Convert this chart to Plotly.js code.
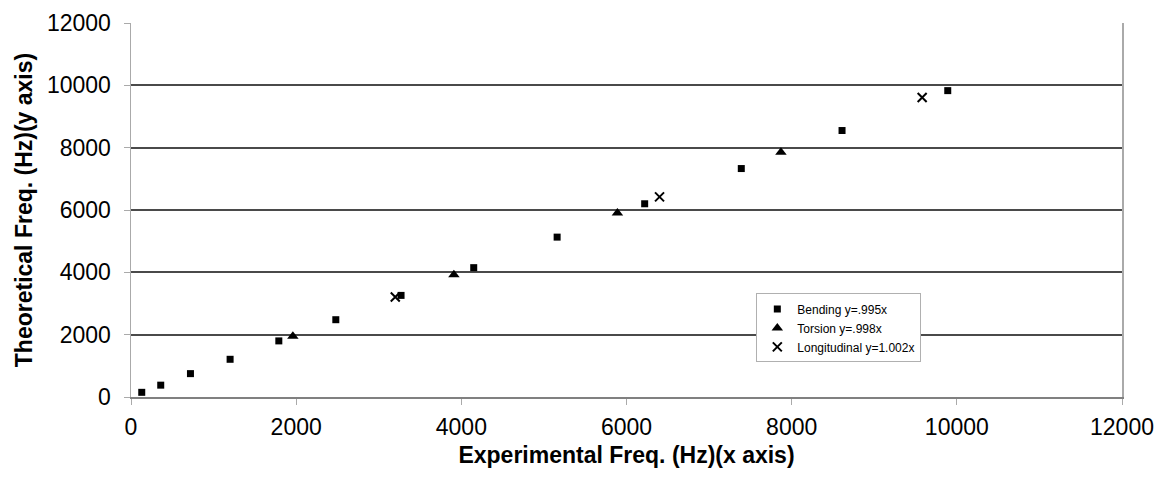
<!DOCTYPE html>
<html>
<head>
<meta charset="utf-8">
<script src="https://cdn.plot.ly/plotly-3.0.1.min.js"></script>
<style>html,body{margin:0;padding:0;background:#fff}#chart{width:1161px;height:479px}</style>
</head>
<body>
<div id="chart"></div>
<script>
const bendingX = [130, 360, 720, 1200, 1790, 2480, 3270, 4150, 5160, 6220, 7390, 8610, 9890];
const bendingY = [150, 380, 750, 1210, 1800, 2480, 3260, 4150, 5130, 6200, 7330, 8550, 9830];
const torsionX = [1960, 3910, 5890, 7870];
const torsionY = [1950, 3920, 5900, 7850];
const longX = [3200, 6400, 9580];
const longY = [3210, 6420, 9610];
const seriesNames = ["Bending y=.995x", "Torsion y=.998x", "Longitudinal y=1.002x"];
const tickVals = [0, 2000, 4000, 6000, 8000, 10000, 12000];
const xTitle = "Experimental Freq. (Hz)(x axis)";
const yTitle = "Theoretical Freq. (Hz)(y axis)";

const traces = [
  {x: bendingX, y: bendingY, name: seriesNames[0], type: 'scatter', mode: 'markers',
   marker: {symbol: 'square', size: 7, color: '#000'}},
  {x: torsionX, y: torsionY, name: seriesNames[1], type: 'scatter', mode: 'markers',
   marker: {symbol: 'triangle-up', size: 10, color: '#000'}},
  {x: longX, y: longY, name: seriesNames[2], type: 'scatter', mode: 'markers',
   marker: {symbol: 'x-thin', size: 9, color: '#000', line: {width: 2, color: '#000'}}}
];

const font = "Liberation Sans, Arial, sans-serif";
const layout = {
  width: 1161, height: 479,
  margin: {l: 131, r: 39, t: 23, b: 82},
  paper_bgcolor: '#fff', plot_bgcolor: '#fff',
  showlegend: true,
  legend: {x: 0.631, y: 0.277, xanchor: 'left', yanchor: 'top',
    bgcolor: '#fff', bordercolor: '#b0b0b0', borderwidth: 1,
    font: {family: font, size: 12, color: '#000'}, itemwidth: 30, tracegroupgap: 2},
  xaxis: {range: [0, 12000], tickvals: tickVals, ticktext: tickVals.map(String),
    showgrid: false, zeroline: false, showline: true, linecolor: '#808080', linewidth: 1.5,
    ticks: 'outside', ticklen: 6, tickcolor: '#aaa', ticklabelstandoff: 3,
    tickfont: {family: font, size: 23, color: '#000'},
    title: {text: xTitle, font: {family: font, size: 23, color: '#000', weight: 'bold'}, standoff: 8}},
  yaxis: {range: [0, 12000], tickvals: tickVals, ticktext: tickVals.map(String),
    showgrid: true, gridcolor: '#4a4a4a', gridwidth: 2, zeroline: false,
    showline: true, linecolor: '#aaa', linewidth: 1.5, mirror: true,
    ticks: 'outside', ticklen: 6, tickcolor: '#aaa', ticklabelstandoff: 8,
    tickfont: {family: font, size: 23, color: '#000'},
    title: {text: yTitle, font: {family: font, size: 23, color: '#000', weight: 'bold'}, standoff: 8}}
};

Plotly.newPlot('chart', traces, layout, {displayModeBar: false, staticPlot: true});
</script>
</body>
</html>
